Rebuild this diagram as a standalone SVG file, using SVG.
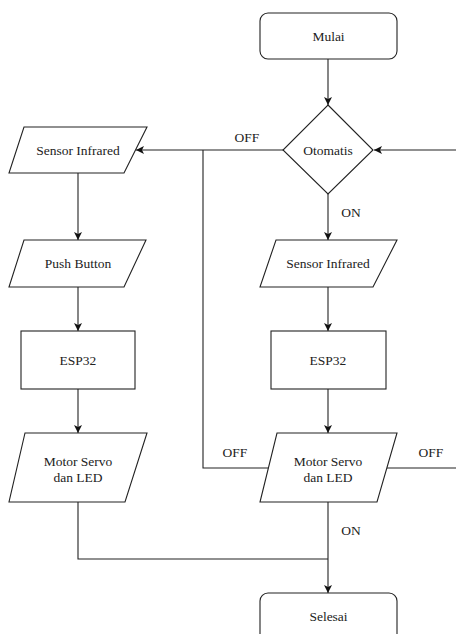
<svg xmlns="http://www.w3.org/2000/svg" width="456" height="634" viewBox="0 0 456 634">
<style>
.s{fill:#fff;stroke:#222;stroke-width:1.1}
.c{fill:none;stroke:#222;stroke-width:1.1}
text{font-family:'Liberation Serif','DejaVu Serif',serif;font-size:13.5px;fill:#222;text-anchor:middle;dominant-baseline:central}
</style>
<defs>
<marker id="ah" viewBox="0 0 10 10" refX="10" refY="5" markerWidth="8" markerHeight="8" markerUnits="userSpaceOnUse" orient="auto">
<path d="M0,0 L10,5 L0,10 L2.5,5 Z" fill="#111"/>
</marker>
</defs>
<rect width="456" height="634" fill="#fff"/>
<g id="connectors">
<path class="c" d="M328,59 V105" marker-end="url(#ah)"/>
<path class="c" d="M283,150 H136" marker-end="url(#ah)"/>
<path class="c" d="M456,150 H374" marker-end="url(#ah)"/>
<path class="c" d="M328,194 V240" marker-end="url(#ah)"/>
<path class="c" d="M78,173 V240" marker-end="url(#ah)"/>
<path class="c" d="M78,287 V331" marker-end="url(#ah)"/>
<path class="c" d="M328,287 V331" marker-end="url(#ah)"/>
<path class="c" d="M78,389 V433" marker-end="url(#ah)"/>
<path class="c" d="M328,389 V433" marker-end="url(#ah)"/>
<path class="c" d="M270,468 H203 V150"/>
<path class="c" d="M387,468 H456"/>
<path class="c" d="M78,502 V559 H328"/>
<path class="c" d="M328,502 V593" marker-end="url(#ah)"/>
<text x="247" y="137" font-family="Liberation Serif, serif">OFF</text>
<text x="351" y="212" font-family="Liberation Serif, serif">ON</text>
<text x="235" y="452" font-family="Liberation Serif, serif">OFF</text>
<text x="431" y="452" font-family="Liberation Serif, serif">OFF</text>
<text x="351" y="530" font-family="Liberation Serif, serif">ON</text>
</g>
<g id="mulai">
<rect class="s" x="260" y="13" width="137" height="46" rx="8"/>
<text x="328.5" y="36">Mulai</text>
</g>
<g id="otomatis">
<path class="s" d="M328,105 L373,150 L328,194 L283,150 Z"/>
<text x="328" y="150">Otomatis</text>
</g>
<g id="sensor-left">
<path class="s" d="M24,127 H147 L124,173 H9 Z"/>
<text x="78" y="150">Sensor Infrared</text>
</g>
<g id="push-button">
<path class="s" d="M24,240 H146 L124,287 H9 Z"/>
<text x="78" y="263">Push Button</text>
</g>
<g id="esp32-left">
<rect class="s" x="21" y="331" width="114" height="58"/>
<text x="78" y="360">ESP32</text>
</g>
<g id="motor-left">
<path class="s" d="M25,433 H147 L125,502 H9 Z"/>
<text x="78" y="461">Motor Servo</text>
<text x="78" y="477">dan LED</text>
</g>
<g id="sensor-right">
<path class="s" d="M276,240 H397 L373,287 H260 Z"/>
<text x="328" y="263">Sensor Infrared</text>
</g>
<g id="esp32-right">
<rect class="s" x="271" y="331" width="115" height="58"/>
<text x="328" y="360">ESP32</text>
</g>
<g id="motor-right">
<path class="s" d="M277,433 H397 L377,502 H260 Z"/>
<text x="328" y="461">Motor Servo</text>
<text x="328" y="477">dan LED</text>
</g>
<g id="selesai">
<rect class="s" x="260" y="593" width="137" height="50" rx="8"/>
<text x="328.5" y="616">Selesai</text>
</g>
</svg>
